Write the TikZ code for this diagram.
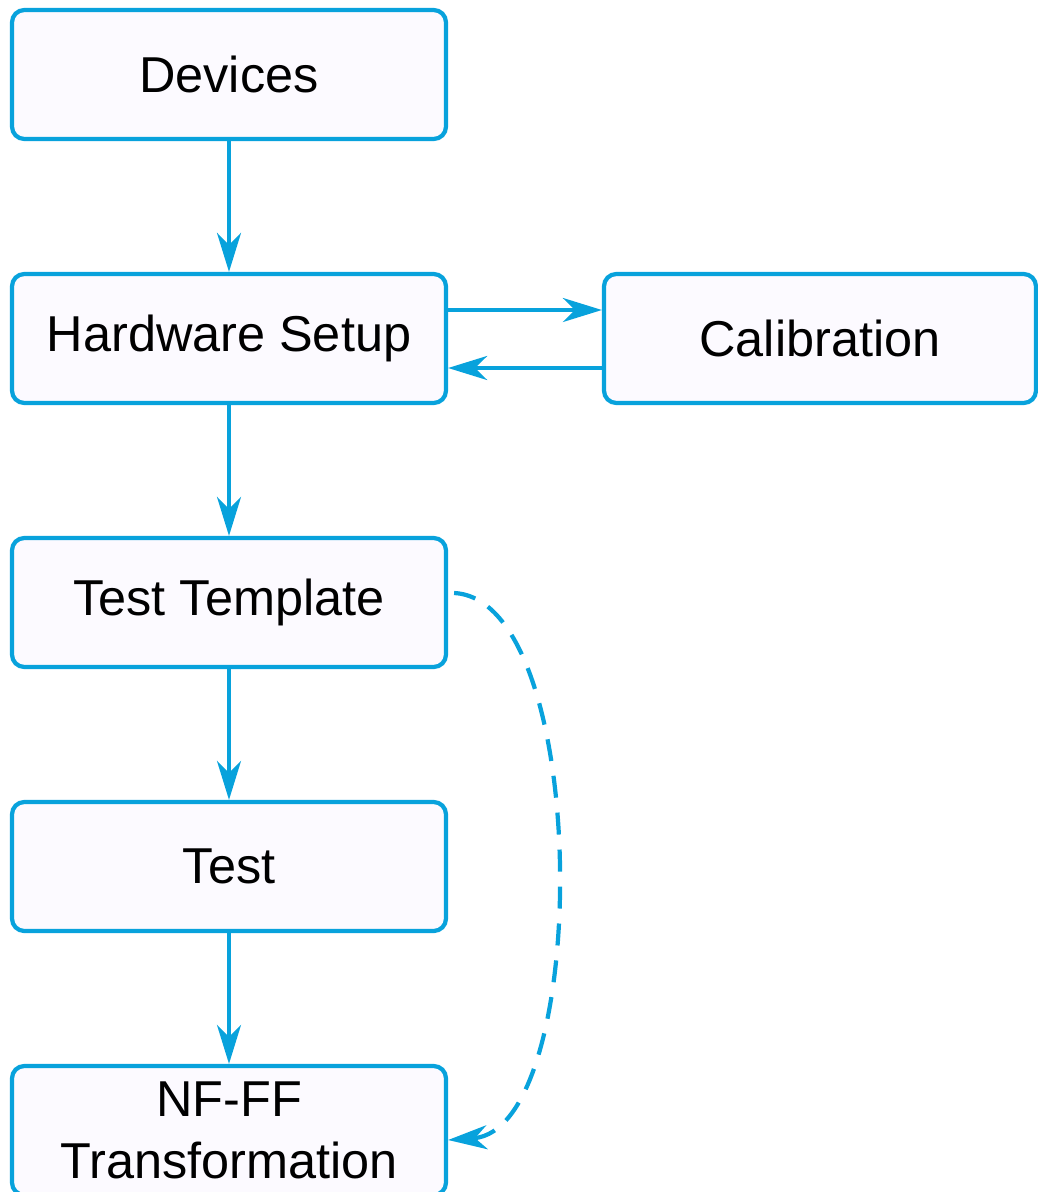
\documentclass[tikz,border=0pt]{standalone}
\usepackage{fontspec}
\setmainfont{Liberation Sans}
\usepackage{tikz}
\usetikzlibrary{arrows.meta,shapes,positioning}
\definecolor{flowblue}{HTML}{08A2DC}
\definecolor{boxfill}{HTML}{FCFAFF}

\begin{document}
\begin{tikzpicture}[node distance=5.28cm,
  stage/.style={draw=flowblue, fill=boxfill, line width=2.4pt, rectangle, rounded corners=7pt, minimum width=8.68cm, minimum height=2.58cm, align=center, font=\fontsize{28.7}{35.7}\selectfont},
  flow/.style={draw=flowblue, line width=2.4pt, -{Stealth[length=0.78cm, width=0.48cm, inset=0.24cm]}}]
\useasboundingbox (0,0) rectangle (20.74,-23.84);
\node (devices) [stage] at (4.58,-1.49) {Devices};
\node (hardware) [stage, below of=devices] {Hardware Setup};
\node (calibration) [stage, right of=hardware, node distance=11.82cm, minimum width=8.64cm] {Calibration};
\node (template) [stage, below of=hardware] {Test Template};
\node (test) [stage, below of=template] {Test};
\node (nfff) [stage, below of=test] {NF-FF\\Transformation};
\draw[flow] (devices) -- (hardware);
\draw[flow] ([yshift=0.57cm]hardware.east) -- ([yshift=0.57cm]calibration.west);
\draw[flow] ([yshift=-0.59cm]calibration.west) -- ([yshift=-0.59cm]hardware.east);
\draw[flow] (hardware) -- (template);
\draw[flow] (template) -- (test);
\draw[flow] (test) -- (nfff);
\draw[flow, dash pattern=on 0.44cm off 0.3cm] ([xshift=0.12cm, yshift=0.19cm]template.east) .. controls +(2.76,-0.14) and +(2.88,0.2) .. ([yshift=-0.19cm]nfff.east);
\end{tikzpicture}
\end{document}
